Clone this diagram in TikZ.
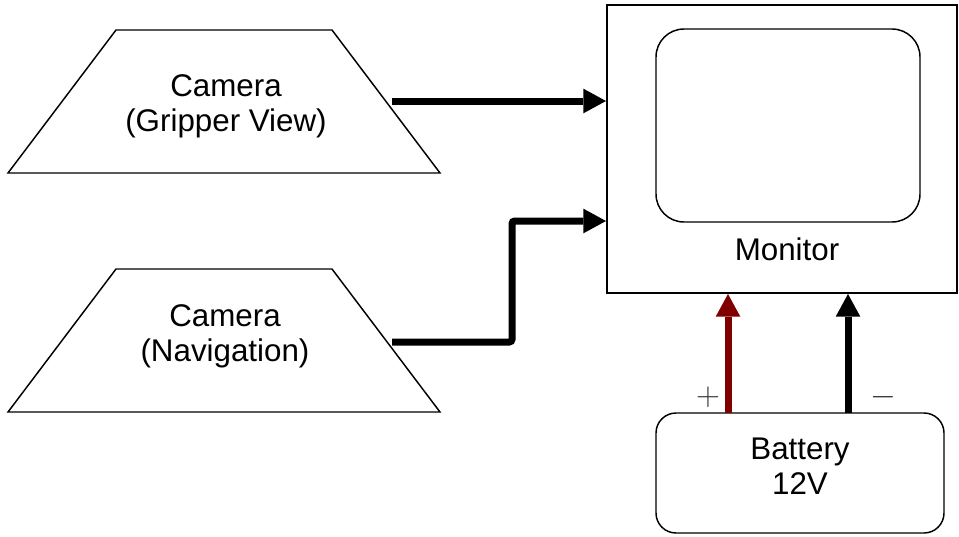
\documentclass[tikz,border=0pt]{standalone}
\usepackage{fontspec}
\setmainfont{Liberation Sans}
\usetikzlibrary{arrows.meta}
\definecolor{darkred}{HTML}{800000}
\definecolor{signgray}{HTML}{333333}
\begin{document}
\begin{tikzpicture}[x=0.75pt,y=-0.75pt,
  outline/.style={draw=black, line width=1.1pt, line join=miter},
  lbl/.style={font=\fontsize{23.5}{26.5}\selectfont, align=center, inner sep=0pt},
  conn/.style={line width=5.25pt, -{Triangle[length=17pt,width=18.5pt,line width=0pt]}},
  sign/.style={font=\fontsize{26}{28}\selectfont, text=signgray, inner sep=0pt}]
\useasboundingbox (0,0) rectangle (959,536);
% camera 1
\coordinate (t1a) at (8,173);
\coordinate (t1b) at (116,30);
\coordinate (t1c) at (332,30);
\coordinate (t1d) at (440,173);
\draw[outline] (t1a) -- (t1b) -- (t1c) -- (t1d) -- cycle;
\node[lbl] (cam1) at (226,106) {Camera\\(Gripper View)};
% camera 2
\coordinate (t2a) at (8,412);
\coordinate (t2b) at (116,269);
\coordinate (t2c) at (332,269);
\coordinate (t2d) at (440,412);
\draw[outline] (t2a) -- (t2b) -- (t2c) -- (t2d) -- cycle;
\node[lbl] (cam2) at (225,336) {Camera\\(Navigation)};
% monitor
\node[draw, line width=1.5pt, minimum width=262.5pt, minimum height=216pt, inner sep=0pt] (mon) at (782,149) {};
\node[draw, line width=1.1pt, rounded corners=21pt, minimum width=198pt, minimum height=144.75pt, inner sep=0pt] (scr) at (788,125.5) {};
\node[lbl] (monlbl) at (787,249) {Monitor};
% battery
\node[draw, line width=1.1pt, rounded corners=15pt, minimum width=216pt, minimum height=90pt, inner sep=0pt] (bat) at (800,473) {};
\node[lbl] (batlbl) at (800,466) {Battery\\12V};
% connectors
\coordinate (c1o) at (392,101);
\draw[conn] (c1o) -- (c1o -| mon.west);
\coordinate (c2o) at (392,342);
\coordinate (c2m) at (512,221);
\draw[conn, rounded corners=2pt] (c2o) -| (c2m) -- (c2m -| mon.west);
\coordinate (bp) at (728,413);
\coordinate (bm) at (848,413);
\draw[conn, color=darkred] (bp) -- (bp |- mon.south);
\draw[conn] (bm) -- (bm |- mon.south);
\node[sign] (plus) at (708,397) {$+$};
\node[sign] (minus) at (883,397) {$-$};
\end{tikzpicture}
\end{document}
